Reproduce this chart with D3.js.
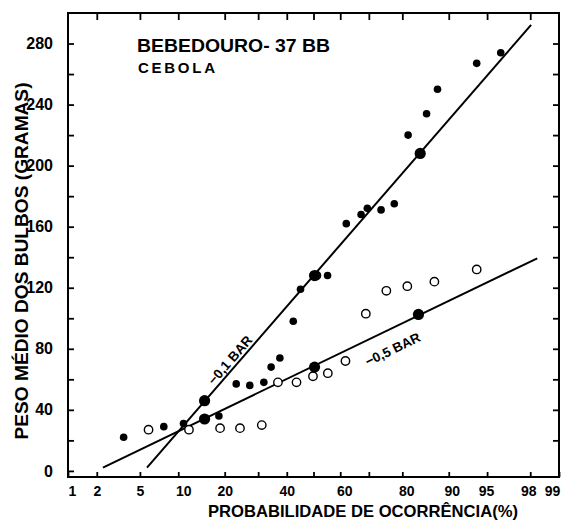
<!DOCTYPE html>
<html>
<head>
<meta charset="utf-8">
<script src="https://cdn.jsdelivr.net/npm/d3@7"></script>
<style>
  body { margin: 0; background: #fff; }
  svg { display: block; font-family: "Liberation Sans", Arial, sans-serif; font-weight: bold; }
</style>
</head>
<body>
<svg width="564" height="525"></svg>
<script>
// probability plot, bulb weight vs probability of occurrence
const xTicks = [1, 2, 5, 10, 20, 30, 40, 50, 60, 70, 80, 90, 95, 98, 99];
const xLabels = [1, 2, 5, 10, 20, 40, 60, 80, 90, 95, 98, 99];
const yTicks = d3.range(0, 281, 20);
const yLabels = [0, 40, 80, 120, 160, 200, 240, 280];

// -0,1 bar (filled dots)
const solidP = [3.6, 7.8, 10.9, 18.5, 23.2, 27.3, 31.9, 34.4, 37.5, 42.4, 45.1, 55.3, 62.2, 67.4, 69.5, 73.9, 77.8, 81.5, 85.8, 88.0, 93.9, 96.2];
const solidV = [22, 29, 31, 36, 57, 56, 58, 68, 74, 98, 119, 128, 162, 168, 172, 171, 175, 220, 234, 250, 267, 274];
// -0,5 bar (open circles)
const openP = [5.9, 11.9, 18.8, 24.3, 31.2, 36.8, 43.6, 49.8, 51.1, 55.4, 61.9, 69.0, 75.5, 81.3, 87.4, 93.9];
const openV = [27, 27, 28, 28, 30, 58, 58, 62, 128, 64, 72, 103, 118, 121, 124, 132];
// fitted points (mean - sd, mean, mean + sd)
const bigP01 = [15.1, 50.4, 84.4];
const bigV01 = [46, 128, 208];
const bigP05 = [15.1, 50.4, 84.0];
const bigV05 = [34, 68, 102.5];
// fitted lines, end points
const line01P = [5.73, 98.04];
const line01V = [2.2, 292.2];
const line05P = [2.30, 98.30];
const line05V = [2.2, 139.3];

// inverse normal cdf (Acklam)
function probit(p) {
  const a = [-3.969683028665376e+01, 2.209460984245205e+02, -2.759285104469687e+02, 1.383577518672690e+02, -3.066479806614716e+01, 2.506628277459239e+00];
  const b = [-5.447609879822406e+01, 1.615858368580409e+02, -1.556989798598866e+02, 6.680131188771972e+01, -1.328068155288572e+01];
  const c = [-7.784894002430293e-03, -3.223964580411365e-01, -2.400758277161838e+00, -2.549732539343734e+00, 4.374664141464968e+00, 2.938163982698783e+00];
  const d = [7.784695709041462e-03, 3.224671290700398e-01, 2.445134137142996e+00, 3.754408661907416e+00];
  const pl = 0.02425;
  let q, r;
  if (p < pl) {
    q = Math.sqrt(-2 * Math.log(p));
    return (((((c[0]*q+c[1])*q+c[2])*q+c[3])*q+c[4])*q+c[5]) / ((((d[0]*q+d[1])*q+d[2])*q+d[3])*q+1);
  }
  if (p > 1 - pl) {
    q = Math.sqrt(-2 * Math.log(1 - p));
    return -(((((c[0]*q+c[1])*q+c[2])*q+c[3])*q+c[4])*q+c[5]) / ((((d[0]*q+d[1])*q+d[2])*q+d[3])*q+1);
  }
  q = p - 0.5; r = q * q;
  return (((((a[0]*r+a[1])*r+a[2])*r+a[3])*r+a[4])*r+a[5])*q / (((((b[0]*r+b[1])*r+b[2])*r+b[3])*r+b[4])*r+1);
}

const mLeft = 68, mRight = 559, mTop = 13, mBottom = 477;
const svg = d3.select('svg');

const x = d3.scaleLinear().domain([probit(0.01), probit(0.99)]).range([mLeft, mRight]);
const px = p => x(probit(p / 100));
const y = d3.scaleLinear().domain([-4, 300]).range([mBottom, mTop]);

// frame
svg.append('rect')
  .attr('x', mLeft).attr('y', mTop)
  .attr('width', mRight - mLeft).attr('height', mBottom - mTop)
  .attr('fill', 'none').attr('stroke', '#000').attr('stroke-width', 2);

// inner ticks
const labelNudge = {1: 4, 10: 5, 60: 4, 80: 4, 90: 3, 95: -1, 98: -2, 99: -7};
const gx = svg.append('g').attr('transform', `translate(0,${mBottom})`)
  .call(d3.axisBottom(x)
    .tickValues(xTicks.map(p => probit(p / 100)))
    .tickSizeInner(-5).tickSizeOuter(0).tickPadding(9)
    .tickFormat((z, i) => xLabels.includes(xTicks[i]) ? xTicks[i] : ''));
gx.selectAll('text').attr('dx', (z, i) => labelNudge[xTicks[i]] || 0);

const gxt = svg.append('g').attr('transform', `translate(0,${mTop})`)
  .call(d3.axisTop(x)
    .tickValues(xTicks.slice(1, -1).map(p => probit(p / 100)))
    .tickSizeInner(-7).tickSizeOuter(0).tickFormat(''));

const gy = svg.append('g').attr('transform', `translate(${mLeft},0)`)
  .call(d3.axisLeft(y)
    .tickValues(yTicks)
    .tickSizeInner(-6).tickSizeOuter(0).tickPadding(15)
    .tickFormat(v => yLabels.includes(v) ? v : ''));

const gyr = svg.append('g').attr('transform', `translate(${mRight},0)`)
  .call(d3.axisRight(y)
    .tickValues(yTicks.slice(1))
    .tickSizeInner(-6).tickSizeOuter(0).tickFormat(''));

[gx, gxt, gy, gyr].forEach(g => {
  g.select('.domain').remove();
  g.selectAll('line').attr('stroke', '#000').attr('stroke-width', 1.8);
  g.selectAll('text').attr('fill', '#000').attr('font-family', '"Liberation Sans", Arial, sans-serif').attr('font-weight', 'bold');
});
gx.selectAll('text').attr('font-size', 14);
gy.selectAll('text').attr('font-size', 16);

// fitted lines
const lines = [
  {p: line01P, v: line01V, label: '\u22120,1 BAR', at: 23.1, off: -3},
  {p: line05P, v: line05V, label: '\u22120,5 BAR', at: 74.9, off: 24}
];
lines.forEach(l => {
  const x0 = px(l.p[0]), y0 = y(l.v[0]), x1 = px(l.p[1]), y1 = y(l.v[1]);
  svg.append('line')
    .attr('x1', x0).attr('y1', y0).attr('x2', x1).attr('y2', y1)
    .attr('stroke', '#000').attr('stroke-width', 2);
  const lx = px(l.at);
  const ly = y0 + (lx - x0) * (y1 - y0) / (x1 - x0);
  const ang = Math.atan2(y1 - y0, x1 - x0) * 180 / Math.PI;
  svg.append('text')
    .attr('transform', `translate(${lx},${ly}) rotate(${ang})`)
    .attr('y', l.off)
    .attr('text-anchor', 'middle')
    .attr('font-size', 13.5)
    .text(l.label);
});

// open circles
svg.append('g').selectAll('circle')
  .data(openP.map((p, i) => [p, openV[i]]))
  .join('circle')
    .attr('cx', d => px(d[0])).attr('cy', d => y(d[1]))
    .attr('r', 4.2)
    .attr('fill', '#fff').attr('stroke', '#000').attr('stroke-width', 1.4);

// filled dots
svg.append('g').selectAll('circle')
  .data(solidP.map((p, i) => [p, solidV[i]]))
  .join('circle')
    .attr('cx', d => px(d[0])).attr('cy', d => y(d[1]))
    .attr('r', 3.8).attr('fill', '#000');

// fitted points
svg.append('g').selectAll('circle')
  .data(bigP01.map((p, i) => [p, bigV01[i]]).concat(bigP05.map((p, i) => [p, bigV05[i]])))
  .join('circle')
    .attr('cx', d => px(d[0])).attr('cy', d => y(d[1]))
    .attr('r', 5.6).attr('fill', '#000');

// titles
svg.append('text').attr('x', 137).attr('y', 51.5)
  .attr('font-size', 19).attr('textLength', 193).attr('lengthAdjust', 'spacingAndGlyphs')
  .text('BEBEDOURO- 37 BB');
svg.append('text').attr('x', 138).attr('y', 73)
  .attr('font-size', 15).attr('textLength', 77).attr('lengthAdjust', 'spacing')
  .text('CEBOLA');

// axis titles
svg.append('text').attr('x', 363).attr('y', 517)
  .attr('text-anchor', 'middle').attr('font-size', 16.5)
  .attr('textLength', 310).attr('lengthAdjust', 'spacingAndGlyphs')
  .text('PROBABILIDADE DE OCORRÊNCIA(%)');
svg.append('text')
  .attr('transform', 'translate(28,261) rotate(-90)')
  .attr('text-anchor', 'middle').attr('font-size', 19)
  .attr('textLength', 357).attr('lengthAdjust', 'spacingAndGlyphs')
  .text('PESO MÉDIO DOS BULBOS (GRAMAS)');
</script>
</body>
</html>
